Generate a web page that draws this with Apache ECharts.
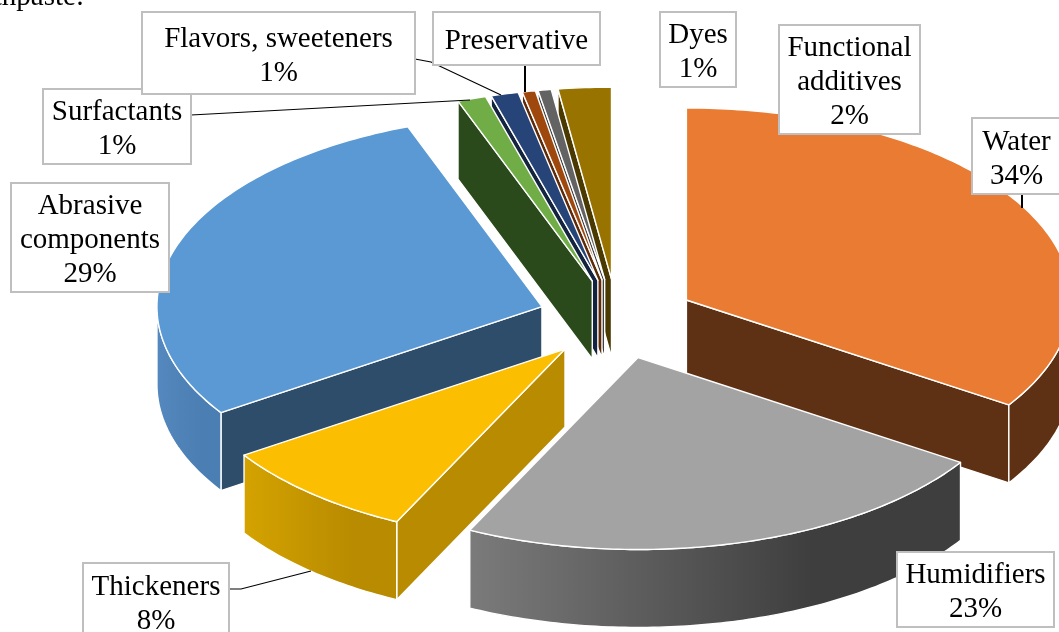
<!DOCTYPE html>
<html><head><meta charset="utf-8">
<style>html,body{margin:0;padding:0;background:#fff}#c{width:1059px;height:632px}</style>
<script src="https://cdn.jsdelivr.net/npm/echarts@6/dist/echarts.min.js"></script>
</head><body><div id="c"></div>
<script>
// Data
const categories = ['Water','Humidifiers','Thickeners','Abrasive components','Surfactants','Flavors, sweeteners','Preservative','Dyes','Functional additives'];
const values = [34.2, 23.0, 8.49, 28.64, 1.2, 1.15, 0.55, 0.55, 2.22];
const showPercent = [true,true,true,true,true,true,false,true,true];
const colors = ['#E97C32','#A3A3A3','#FBBE00','#5A99D4','#70AD47','#264478','#9E480E','#636363','#997300'];
const cutColors = ['#5F3114','#404040','#B98B00','#2E4D6B','#2B4A1C','#14233F','#5E2A08','#3B3B3B','#4A3900'];
const wallFrom = ['#5F3114','#7B7B7B','#D4A300','#5488BE','#2B4A1C','#14233F','#5E2A08','#3B3B3B','#4A3900'];
const wallTo = ['#5F3114','#3E3E3E','#B98B00','#4B7FB3','#2B4A1C','#14233F','#5E2A08','#3B3B3B','#4A3900'];
const drawOrder = [8,7,6,5,4,0,3,2,1];
// Pie geometry in unit-radius coordinates
const EXPLODE_X = 0.205, EXPLODE_Y = 0.208, DEPTH = 0.406;
const total = values.reduce((a,b)=>a+b,0);
const cumulative = []; values.reduce((s,v,i)=>(cumulative[i]=s, s+v),0);

const labelLayout = [
  {i:0,x:972,y:118,w:89,h:76,lines:['Water']},
  {i:1,x:897,y:552,w:157,h:75,lines:['Humidifiers']},
  {i:2,x:83,y:563,w:146,h:76,lines:['Thickeners']},
  {i:3,x:11,y:183,w:158,h:109,lines:['Abrasive','components']},
  {i:4,x:43,y:89,w:148,h:75,lines:['Surfactants']},
  {i:5,x:142,y:12,w:273,h:82,lines:['Flavors, sweeteners']},
  {i:6,x:433,y:12,w:167,h:53,lines:['Preservative']},
  {i:7,x:660,y:12,w:76,h:75,lines:['Dyes']},
  {i:8,x:779,y:25,w:141,h:109,lines:['Functional','additives']}
];
const leaders = [
  {w:1.2,p:[[191,115],[470,100]]},
  {w:1.2,p:[[415,59],[431,62],[501,95]]},
  {w:2,p:[[525,65],[525,92]]},
  {w:2,p:[[1022,194],[1022,208]]},
  {w:1.2,p:[[229,589],[241,589],[311,571]]}
];

function renderSlice(params, api){
  const i = api.value(2);
  const a0 = api.value(0)/total*2*Math.PI, a1 = api.value(1)/total*2*Math.PI, m=(a0+a1)/2;
  const ox = EXPLODE_X*Math.sin(m), oy = EXPLODE_Y*Math.cos(m);
  const P = (x,y,d)=>api.coord([ox+x, oy+y-(d?DEPTH:0)]);
  const rim = (a,d)=>P(Math.sin(a),Math.cos(a),d);
  const arc = (s,e,d)=>{const n=Math.max(2,Math.ceil((e-s)/0.015)),r=[];for(let k=0;k<=n;k++)r.push(rim(s+(e-s)*k/n,d));return r;};
  const kids = [];
  const edge = {stroke:'#fff',lineWidth:1.4,lineJoin:'round'};
  const wall = (a,show)=>{ if(show) kids.push({type:'polygon',shape:{points:[P(0,0,0),rim(a,0),rim(a,1),P(0,0,1)]},style:Object.assign({fill:cutColors[i]},edge)}); };
  wall(a0, Math.cos(a0-Math.PI/2)<-1e-3);
  wall(a1, Math.cos(a1+Math.PI/2)<-1e-3);
  const s = Math.max(a0,Math.PI/2), e = Math.min(a1,1.5*Math.PI);
  if(e>s){
    const pts = arc(s,e,0).concat(arc(s,e,1).reverse());
    kids.push({type:'polygon',shape:{points:pts},style:Object.assign({fill:{type:'linear',x:0,y:0,x2:1,y2:0,colorStops:[{offset:0,color:wallFrom[i]},{offset:0.7,color:wallTo[i]},{offset:1,color:wallTo[i]}]}},edge)});
  }
  kids.push({type:'polygon',shape:{points:[P(0,0,0)].concat(arc(a0,a1,0))},style:Object.assign({fill:colors[i]},edge)});
  return {type:'group',children:kids};
}

const chart = echarts.init(document.getElementById('c'),null,{renderer:'canvas'});
const graphics = [];
leaders.forEach(l=>graphics.push({type:'polyline',z:20,shape:{points:l.p},style:{stroke:'#000',lineWidth:l.w,fill:null}}));
labelLayout.forEach(b=>{
  const pct = showPercent[b.i] ? [Math.round(values[b.i]/total*100)+'%'] : [];
  graphics.push({type:'rect',z:30,shape:{x:b.x,y:b.y,width:b.w,height:b.h},style:{fill:'#fff',stroke:'#BFBFBF',lineWidth:2}});
  graphics.push({type:'text',z:31,x:b.x+b.w/2,y:b.y+b.h/2+3,style:{text:b.lines.concat(pct).join('\n'),fill:'#000',font:'29px "Liberation Serif"',lineHeight:34,align:'center',verticalAlign:'middle'}});
});
graphics.push({type:'text',z:31,x:84,y:-17,style:{text:'toothpaste:',fill:'#000',font:'29px "Liberation Serif"',align:'right',verticalAlign:'top'}});

chart.setOption({
  animation:false,
  backgroundColor:'#fff',
  grid:{left:0,right:0,top:0,bottom:0},
  xAxis:{type:'value',show:false,min:-617/385,max:442/385},
  yAxis:{type:'value',show:false,min:-313/192,max:319/192},
  series:[{
    type:'custom',
    coordinateSystem:'cartesian2d',
    clip:false,
    renderItem:renderSlice,
    encode:{x:0,y:1},
    data:drawOrder.map(i=>({name:categories[i],value:[cumulative[i],cumulative[i]+values[i],i]}))
  }],
  graphic:graphics
});
</script></body></html>
